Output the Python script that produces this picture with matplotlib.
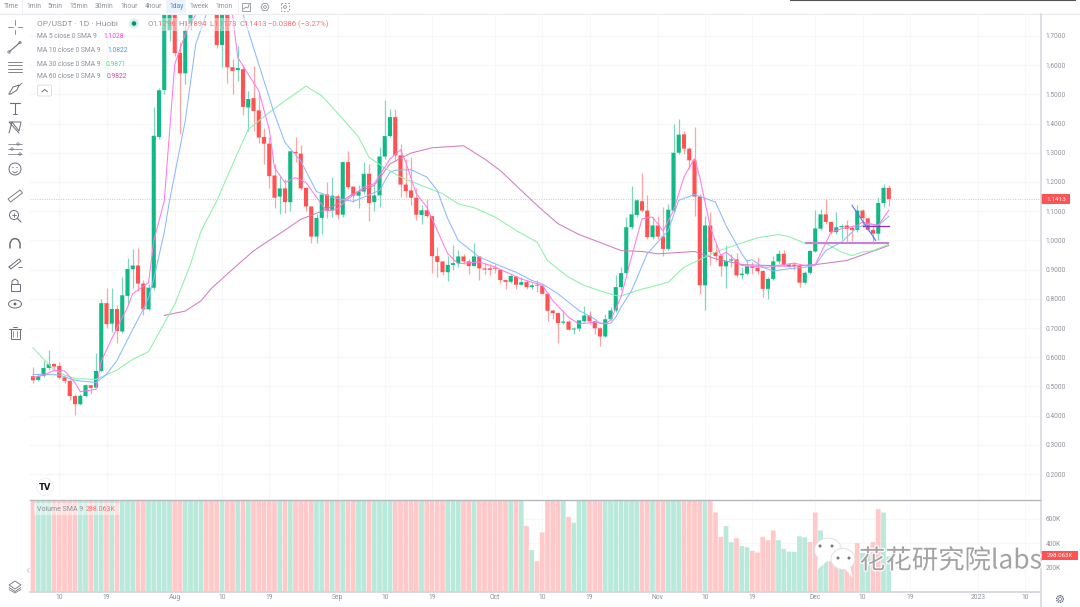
import matplotlib
matplotlib.use("Agg")
import matplotlib.pyplot as plt
from matplotlib.patches import Rectangle, FancyBboxPatch, Circle, Ellipse, Polygon
import matplotlib.patheffects as pe

# ---------- data ----------
first_day = -5   # days relative to 10 Jul
opens = [.535,.522,.536,.563,.577,.570,.531,.519,.467,.439,.467,.504,.496,.553,.785,.715,.765,.688,.810,.901,.914,.852,.764,
 .838,1.354,1.515,1.719,1.90,1.642,1.572,1.74,1.95,2.15,2.35,2.2,1.95,1.669,1.90,1.593,1.583,1.586,1.455,1.487,1.445,1.354,1.331,
 1.222,1.15,1.178,1.131,1.303,1.297,1.18,1.116,1.013,1.077,1.157,1.102,1.151,1.088,1.268,1.184,1.153,1.167,1.228,1.131,1.154,
 1.287,1.357,1.422,1.291,1.191,1.171,1.146,1.087,1.103,1.083,.946,.928,.891,.916,.922,.945,.928,.912,.945,.904,.904,.906,.899,
 .864,.858,.876,.848,.857,.84,.847,.845,.817,.76,.751,.718,.722,.695,.698,.723,.743,.723,.699,.671,.73,.76,.84,.888,1.045,1.087,
 1.134,1.102,1.011,1.051,1.013,.971,1.102,1.30,1.363,1.314,1.274,1.15,.846,1.051,.96,.948,.911,.931,.935,.881,.886,.911,.906,
 .895,.834,.868,.928,.954,.917,.917,.912,.855,.889,.962,1.04,1.089,1.063,1.028,1.045,1.051,1.043,1.036,1.102,1.075,1.036,1.023,
 1.128,1.1796]
closes = [.521,.535,.563,.576,.568,.530,.519,.467,.439,.468,.504,.495,.553,.785,.713,.765,.690,.812,.902,.914,.852,.764,.838,
 1.358,1.514,1.83,1.90,1.641,1.572,1.718,1.95,2.15,2.35,2.2,1.95,1.669,1.90,1.593,1.58,1.59,1.457,1.484,1.443,1.352,1.331,1.22,
 1.146,1.178,1.131,1.305,1.298,1.178,1.116,1.013,1.077,1.157,1.102,1.153,1.088,1.268,1.182,1.153,1.167,1.228,1.128,1.154,1.287,
 1.357,1.422,1.291,1.191,1.169,1.146,1.088,1.103,1.083,.946,.926,.891,.916,.922,.945,.928,.912,.945,.904,.90,.899,.903,.864,
 .858,.878,.848,.857,.84,.846,.845,.817,.759,.751,.717,.722,.694,.698,.726,.743,.723,.699,.671,.73,.76,.84,.888,1.045,1.089,1.137,
 1.102,1.011,1.051,1.013,.971,1.105,1.30,1.362,1.314,1.274,1.15,.846,1.051,.96,.946,.911,.929,.935,.88,.886,.911,.906,.895,
 .834,.868,.928,.954,.916,.912,.912,.855,.889,.964,1.041,1.089,1.063,1.028,1.045,1.049,1.04,1.036,1.102,1.076,1.036,1.023,1.128,
 1.18,1.1413]
highs = [.568,.544,.587,.625,.580,.582,.535,.524,.473,.473,.509,.504,.613,.798,.836,.836,.779,.875,.941,.969,.975,.863,.850,
 1.455,1.52,1.85,1.95,1.95,1.68,1.75,1.98,2.2,2.4,2.4,2.25,2.0,1.95,1.95,1.62,1.666,1.60,1.51,1.597,1.50,1.386,1.354,
 1.26,1.22,1.21,1.305,1.355,1.325,1.18,1.116,1.09,1.157,1.199,1.216,1.16,1.273,1.307,1.184,1.188,1.268,1.262,1.188,1.32,
 1.479,1.45,1.45,1.33,1.28,1.285,1.18,1.12,1.142,1.085,.976,.93,.945,.985,.966,.954,.937,.992,.948,.922,.92,.92,.903,
 .868,.886,.879,.874,.865,.853,.863,.851,.823,.76,.754,.76,.726,.705,.728,.777,.758,.723,.703,.749,.771,.88,.908,1.08,1.185,1.143,
 1.231,1.157,1.08,1.085,1.114,1.123,1.397,1.416,1.376,1.32,1.388,1.16,1.085,1.097,.988,.954,.983,.954,.956,.908,.937,.925,.943,
 .90,.874,.948,.968,.966,.922,.925,.914,.895,.968,1.105,1.108,1.142,1.067,1.097,1.057,1.07,1.051,1.12,1.108,1.08,1.051,1.15,
 1.194,1.1894]
lows = [.513,.519,.532,.556,.555,.527,.513,.454,.401,.436,.465,.473,.493,.551,.701,.686,.650,.684,.781,.838,.827,.745,.762,
 .83,1.346,1.50,1.684,1.63,1.365,1.536,1.72,1.9,2.1,2.15,1.9,1.66,1.594,1.54,1.50,1.546,1.43,1.375,1.375,1.335,1.26,1.18,
 1.11,1.09,1.093,1.102,1.27,1.173,1.102,.99,.99,1.022,1.077,1.08,1.073,1.081,1.175,1.13,1.111,1.159,1.066,1.10,1.115,
 1.28,1.354,1.274,1.15,1.15,1.12,1.07,1.057,1.08,.888,.876,.883,.861,.897,.908,.92,.886,.911,.865,.886,.883,.89,.853,
 .834,.853,.834,.846,.834,.834,.823,.815,.723,.731,.648,.714,.692,.68,.69,.72,.714,.68,.637,.669,.726,.754,.83,.885,1.04,1.08,
 1.097,1.005,1.005,1.005,.945,.968,1.097,1.297,1.297,1.245,1.085,.817,.762,.914,.931,.878,.838,.908,.876,.868,.882,.886,.886,
 .806,.80,.865,.92,.914,.908,.897,.84,.851,.886,.96,1.036,1.057,1.022,1.022,1.005,.994,.997,1.028,1.045,1.032,.988,1.0,
 1.114,1.1173]

ma5_days = [-5,-3,-1,1,3,4,7,8,11,13,14,17,18,20,22,24,26,28,30,32,33,34,38,40,41,43,45,47,49,51,53,55,58,60,63,65,66,68,70,72,74,76,80,83,88,92,94,97,99,102,104,105,107,109,111,113,115,117,119,121,122,124,126,127,130,132,135,137,140,142,144,147,149,152,153,156,158]
ma5_vals = [.53,.539,.555,.553,.513,.482,.49,.587,.701,.77,.818,.855,.998,1.135,1.603,1.706,1.774,1.95,2.0,1.9,1.774,1.626,1.512,1.38,1.249,1.198,1.215,1.198,1.147,1.1,1.108,1.142,1.182,1.194,1.279,1.31,1.268,1.16,1.114,1.034,.954,.92,.926,.909,.868,.846,.794,.737,.714,.72,.714,.726,.806,.943,1.074,1.08,1.032,1.102,1.217,1.28,1.217,1.045,.948,.96,.914,.911,.908,.914,.922,.914,.917,1.028,1.04,1.051,1.063,1.051,1.1028]
ma10_days = [-5,-2,0,3,7,9,11,14,16,17,18,20,21,24,26,28,30,32,34,35,38,41,43,46,49,52,56,58,61,63,64,67,70,72,74,76,80,83,87,90,92,95,99,102,103,105,106,107,109,112,116,118,121,125,127,130,131,132,134,136,139,142,144,146,149,152,154,156,158]
ma10_vals = [.541,.541,.539,.521,.513,.541,.589,.695,.764,.804,.867,1.027,1.135,1.409,1.672,1.774,1.88,1.9,1.85,1.774,1.603,1.432,1.335,1.272,1.167,1.148,1.133,1.148,1.171,1.234,1.24,1.242,1.217,1.171,1.074,1.0,.943,.92,.891,.863,.851,.817,.76,.731,.716,.716,.737,.771,.828,.954,1.034,1.137,1.157,1.131,1.051,.954,.929,.934,.908,.895,.903,.908,.914,.965,.994,1.045,1.054,1.051,1.0822]
ma30_days = [-5,-3,-1,1,3,7,11,14,17,19,22,25,27,30,33,36,40,43,47,50,54,57,59,62,65,69,73,76,79,83,87,91,93,97,100,103,106,107,110,116,119,122,125,128,133,137,139,142,146,149,151,153,155,158]
ma30_vals = [.633,.593,.558,.539,.527,.524,.556,.593,.619,.684,.781,.918,1.032,1.135,1.26,1.38,1.438,1.478,1.528,1.495,1.416,1.354,1.285,1.248,1.217,1.188,1.16,1.125,1.112,1.08,1.034,.994,.931,.874,.846,.827,.811,.809,.828,.857,.908,.934,.96,.979,1.009,1.02,1.013,.99,.99,.96,.948,.96,.965,.9871]
ma60_days = [20,24,27,29,33,37,40,43,46,50,53,56,60,63,67,71,77,81,84,87,91,95,99,103,107,111,114,121,125,130,135,139,144,150,158]
ma60_vals = [.743,.758,.793,.836,.901,.964,1.0,1.035,1.072,1.1,1.125,1.16,1.188,1.262,1.299,1.317,1.324,1.279,1.239,1.188,1.12,1.057,1.02,.993,.965,.962,.954,.962,.937,.917,.914,.911,.917,.931,.9822]

vol_colors = ("r"+"ggg"+"rrrrr"+"gg"+"r"+"gg"+"r"+"g"+"r"+"ggg"+"rr"+"ggggg"+"rr"+"gggg"+"rrr"+"g"+"rr"+"g"+"r"+"g"+"rrrrr"+"g"+"r"+"g"+"rrrr"+"gg"+"r"+"g"+"r"+"g"+"rr"+"gg"+"r"+"gggg"+"rrrrr"+"g"+"rrrr"+"ggg"+"rr"+"g"+"rrrrrr"+"g"+"r"+"g"
 +"r"+"g"+"r"+"r"+"rrr"+"g"+"r"+"g"+"gg"+"rrr"+"ggggggg"+"rr"+"g"+"rr"+"ggg"+"rrrr"+"g"+"r"+"r"+"r"+"gg"+"r"+"gg"+"rrr"+"rr"+"ggg"+"g"+"gg"+"rr"+"gg"+"rr"+"g"+"rrr"+"gg"+"r")
# thousands; the first 94 run off the top of the pane
volumes = [900,1200,1100,950,1300,1000,900,1400,1250,1000,1500,1300,900,1100,2000,3500,2400,1800,1500,1300,2600,3100,2800,2200,1700,1500,1900,2500,2900,2400,1800,1600,1500,1900,1400,1300,1200,1700,1500,1300,1200,1600,2100,1800,1500,1300,1200,1000,1100,1400,1600,1900,1700,1500,1300,1100,1200,1500,1800,2100,1600,1400,1300,1700,1400,1200,1100,1300,1500,1800,1400,1200,1100,1000,950,1300,1100,1500,1700,1300,1100,1000,950,900,880,860,820,1000,950,900,840,900,1000,1100,
 540,342,250,488,1100,1300,900,900,616,568,820,900,1100,1400,1000,1300,1100,1200,1000,1500,1000,900,1000,1300,1200,1100,1000,1200,1100,1300,1800,1500,1600,1200,1100,900,652,452,540,408,440,375,366,336,322,452,424,504,424,352,330,328,456,448,408,652,504,330,330,310,318,300,275,400,318,318,408,680,652,290]

price_ticks = [1.7,1.6,1.5,1.4,1.3,1.2,1.1,1.0,.9,.8,.7,.6,.5,.4,.3,.2]
vol_ticks = [600,400,200]
date_days = [0,9,22,31,40,53,62,71,83,92,101,114,123,132,144,153,162,175,184]
date_labels = ["10","19","Aug","10","19","Sep","10","19","Oct","10","19","Nov","10","19","Dec","10","19","2023","10"]
last_close = 1.1413
last_volume = "298.063K"
timeframes = ["Time","1min","5min","15min","30min","1hour","4hour","1day","1week","1mon"]
timeframe_x = [11,33.5,55,79,104.5,129.5,153.5,176.5,199.5,224.5]
legend_names = ["MA 5 close 0 SMA 9","MA 10 close 0 SMA 9","MA 30 close 0 SMA 9","MA 60 close 0 SMA 9"]
legend_vals = ["1.1028","1.0822","0.9871","0.9822"]
drawn_purple_days = [142,158]; drawn_purple_vals = [.99,.99]
drawn_dark_days = [153,158]; drawn_dark_vals = [1.05,1.05]
drawn_blue_days = [151,155.5]; drawn_blue_vals = [1.12,1.0]

# ---------- look ----------
W, H = 1080, 607
UP, DOWN = "#12B886", "#FF5252"
UP_W, DOWN_W = "#7FD8BE", "#FFA3A3"
UP_V, DOWN_V = "#B8E9DA", "#FFC9C9"
C5, C10, C30, C60 = "#FF7AEA", "#8ABAFF", "#8CF0AA", "#D27CC2"
GRID = "#F6F7F9"
TXT = "#8D929B"
plt.rcParams["font.family"] = ["Roboto", "DejaVu Sans"]

def box(x0, y0, x1, y1):
    return [x0/W, 1-y1/H, (x1-x0)/W, (y1-y0)/H]

fig = plt.figure(figsize=(W/100, H/100), dpi=100, facecolor="white")
XLIM = ((30-59.25)/5.25, (1040-59.25)/5.25)

ax = fig.add_axes(box(30, 14, 1040, 498))
ax.set_xlim(*XLIM); ax.set_ylim(0.118, 1.775)
vx = fig.add_axes(box(30, 500, 1040, 591.5))
vx.set_xlim(*XLIM); vx.set_ylim(0, 756)

days = [first_day+i for i in range(len(opens))]
for a in (ax, vx):
    for s in a.spines.values():
        s.set_visible(False)
    a.set_axisbelow(True)
    a.grid(True, color=GRID, lw=0.8)
    a.set_xticks(date_days)
ax.set_yticks(price_ticks)
vx.set_yticks(vol_ticks)
ax.tick_params(length=0, labelbottom=False, labelleft=False)
vx.set_xticklabels(date_labels)
vx.set_yticklabels([f"{v}K" for v in vol_ticks])
vx.tick_params(axis="x", length=0, labelsize=4.9, labelcolor=TXT, pad=1.8)
vx.tick_params(axis="y", length=0, labelleft=False)
ax.yaxis.tick_right(); vx.yaxis.tick_right()
ax.tick_params(axis="y", labelright=True, labelsize=4.7, labelcolor=TXT, pad=4.2)
vx.tick_params(axis="y", labelright=True, labelsize=4.7, labelcolor=TXT, pad=4.2)
ax.set_yticklabels([f"{v:.4f}" for v in price_ticks])

# candles
up = [c >= o for o, c in zip(opens, closes)]
ax.vlines(days, lows, highs, colors=[UP_W if u else DOWN_W for u in up], lw=0.9, zorder=2)
bodies = ax.bar(days, [max(abs(c-o), .003) for o, c in zip(opens, closes)], bottom=[min(o, c) for o, c in zip(opens, closes)],
       width=0.78, color=[UP if u else DOWN for u in up], lw=0, zorder=3)
# moving averages
ax.plot(ma60_days, ma60_vals, color=C60, lw=0.75, zorder=4)
ax.plot(ma30_days, ma30_vals, color=C30, lw=0.75, zorder=4)
ax.plot(ma10_days, ma10_vals, color=C10, lw=0.75, zorder=4)
ax.plot(ma5_days, ma5_vals, color=C5, lw=0.75, zorder=4)
# drawn trend lines
ax.plot(drawn_purple_days, drawn_purple_vals, color="#C583D6", lw=1.5, zorder=5, solid_capstyle="butt")
ax.plot(drawn_dark_days, drawn_dark_vals, color="#8E30B0", lw=0.9, zorder=5)
ax.plot(drawn_blue_days, drawn_blue_vals, color="#4C78F0", lw=0.8, zorder=5)
ax.axhline(last_close, color="#FFB5B5", lw=0.7, ls=(0, (1, 1.4)), zorder=1)
# volume
vbars = vx.bar(days, volumes, width=0.9, color=[UP_V if c == "g" else DOWN_V for c in vol_colors], lw=0, zorder=2)
for patch in list(bodies) + list(vbars):
    patch.set_snap(False)

# ---------- chrome in pixel space ----------
ui = fig.add_axes([0, 0, 1, 1], zorder=10)
ui.set_xlim(0, W); ui.set_ylim(H, 0); ui.axis("off"); ui.patch.set_alpha(0)
G = "#6A707B"
ui.add_patch(Rectangle((0, 0), W, 13, fc="white", ec="none"))
ui.plot([0, W], [13.5, 13.5], color="#E9EBEF", lw=0.8)
ui.plot([790, 1075], [0.3, 0.3], color="#555555", lw=0.8)
ui.plot([1040.5, 1040.5], [14, 607], color="#D3D6DC", lw=1.1)
ui.plot([30, 1040], [499.5, 499.5], color="#B4B7BD", lw=1.0)
ui.plot([30, 1040], [592, 592], color="#D0D3D8", lw=1.2)
ui.add_patch(Rectangle((166, 0), 20, 13, fc="#EEF3FB", ec="none"))
for t, x in zip(timeframes, timeframe_x):
    ui.text(x, 6.8, t, ha="center", va="center", fontsize=4.9, color="#3F8CE0" if t == "1day" else TXT)
for x in (22, 238):
    ui.plot([x, x], [0, 13], color="#ECEEF1", lw=0.6)
# header icons
ui.add_patch(Rectangle((242, 3), 8, 8, fc="none", ec=TXT, lw=0.6))
ui.plot([243.5, 246, 248, 249], [9, 7, 8, 4.5], color=TXT, lw=0.6)
ui.add_patch(Polygon([(261, 7), (263, 3.5), (267, 3.5), (269, 7), (267, 10.5), (263, 10.5)], fc="none", ec=TXT, lw=0.6))
ui.add_patch(Circle((265, 7), 1.4, fc="none", ec=TXT, lw=0.6))
ui.add_patch(Rectangle((281, 3), 8, 8, fc="none", ec=TXT, lw=0.6, ls=(0, (2, 2))))
ui.add_patch(Circle((285, 7), 1.4, fc="none", ec=TXT, lw=0.6))

# legend
ui.add_patch(Rectangle((35, 18), 292, 13, fc="white", ec="none", alpha=0.45))
ui.text(37, 23.5, "OP/USDT · 1D · Huobi", fontsize=6, color=TXT, va="center")
ui.add_patch(Circle((134, 23.5), 5, fc="#D8F0EA", ec="none"))
ui.add_patch(Circle((134, 23.5), 2.3, fc="#0B8F74", ec="none"))
RED = "#FF6E6E"
for lab, lx, val, vxx in zip("OHLC", (148, 178, 209, 239), ("1.1796", "1.1894", "1.1173", "1.1413"), (152.5, 183, 213, 243)):
    ui.text(lx, 24, lab, fontsize=5.6, color=TXT, va="center")
    ui.text(vxx, 24, val, fontsize=5.6, color=RED, va="center")
ui.text(268, 24, "−0.0386 (−3.27%)", fontsize=5.6, color=RED, va="center")
for y, name, val, col, vx0 in zip((37, 50.5, 64, 77), legend_names, legend_vals, ("#FF40E0", "#3D9BFF", "#3EEB78", "#BE55AE"), (103, 107, 106, 107)):
    ui.text(37, y, name, fontsize=4.9, color=TXT, va="center")
    ui.text(vx0, y, val, fontsize=4.9, color=col, va="center")
ui.add_patch(FancyBboxPatch((37.5, 85), 14, 11, boxstyle="round,pad=0,rounding_size=1.5", fc="white", ec="#D8DAE0", lw=0.6))
ui.plot([42, 44.7, 47.4], [91.7, 89.5, 91.7], color=G, lw=0.7)

# volume legend and price tags
ui.add_patch(Rectangle((34, 503), 86, 12, fc="white", ec="none", alpha=0.45))
ui.text(37, 509.5, "Volume SMA 9", fontsize=5.0, color=TXT, va="center")
ui.text(86, 509.5, last_volume, fontsize=5.0, color=RED, va="center")
ui.add_patch(Rectangle((1041, 194), 29, 10, fc="#FF5252", ec="none"))
ui.text(1046, 199.2, f"{last_close:.4f}", fontsize=4.6, color="white", va="center")
ui.add_patch(Rectangle((1041, 550.5), 36.5, 9.5, fc="#FF5252", ec="none"))
ui.text(1046.5, 555.4, last_volume, fontsize=4.4, color="white", va="center")

# left toolbar icons
def line(xs, ys, c=G, lw=0.6):
    ui.plot(xs, ys, color=c, lw=lw, solid_capstyle="round")
line([8, 12.5], [27, 27], "#4A7FE8"); line([17.5, 22], [27, 27], "#4A7FE8")
line([15, 15], [20, 24.5], "#4A7FE8"); line([15, 15], [29.5, 34], "#4A7FE8")
line([9, 20], [52, 42.5], lw=0.8)
ui.add_patch(Circle((9, 52), 1.2, fc="white", ec=G, lw=0.5)); ui.add_patch(Circle((20, 42.5), 1.2, fc="white", ec=G, lw=0.5))
for y in (61.5, 65, 68.5, 72):
    line([7.5, 22], [y, y], lw=0.6)
line([9, 13, 19, 17, 11, 9], [94, 87, 85, 90, 94, 94], lw=0.7); line([18, 22], [87, 83], lw=0.6)
line([10, 20], [103, 103], lw=0.8); line([15, 15], [103, 114], lw=0.8); line([13, 17], [114, 114], lw=0.7)
line([9, 12, 19, 21, 9, 19], [133, 122, 131, 122, 122, 133], lw=0.7)
for y, xc in ((144, 18), (149, 12), (154, 20)):
    line([8, 22], [y, y], lw=0.5); ui.add_patch(Circle((xc, y), 1.2, fc="white", ec=G, lw=0.5))
ui.add_patch(Circle((15, 169), 6, fc="none", ec=G, lw=0.7))
ui.add_patch(Circle((13, 167.5), 0.6, fc=G, ec="none")); ui.add_patch(Circle((17, 167.5), 0.6, fc=G, ec="none"))
line([12.5, 15, 17.5], [171.5, 173, 171.5])
ui.add_patch(Polygon([(8, 199), (20, 190), (22.5, 193), (10.5, 202)], fc="white", ec=G, lw=0.6))
ui.add_patch(Circle((14, 215), 4.5, fc="none", ec=G, lw=0.7)); line([17.5, 21], [218.5, 222], lw=0.8)
line([12, 16], [215, 215]); line([14, 14], [213, 217])
line([10, 10, 12, 15, 18, 20, 20], [248, 243, 239.5, 238.5, 239.5, 243, 248], lw=1.1)
line([9, 19, 21, 11, 9], [267, 259, 261, 269, 267], lw=0.7); line([18, 22], [267, 267])
ui.add_patch(Rectangle((10.5, 284), 9, 7, fc="white", ec=G, lw=0.7))
line([12, 12, 15, 18, 18], [284, 281, 279, 281, 284], lw=0.7)
ui.add_patch(Ellipse((15, 304), 13, 8, fc="none", ec=G, lw=0.7)); ui.add_patch(Circle((15, 304), 1.5, fc=G, ec="none"))
ui.add_patch(Rectangle((10.5, 329), 9, 10, fc="none", ec=G, lw=0.7)); line([9, 21], [328.5, 328.5], lw=0.8)
line([13, 13], [331, 337], lw=0.5); line([17, 17], [331, 337], lw=0.5); line([13, 17], [326.5, 326.5], lw=0.7)
ui.add_patch(Polygon([(15, 581), (21, 585), (15, 589), (9, 585)], fc="white", ec=G, lw=0.6))
line([9, 15, 21], [587.5, 591.5, 587.5], lw=0.6); line([9, 15, 21], [589.5, 593, 589.5], lw=0.5)
line([29, 27.5, 29], [568.5, 570.5, 572.5], "#B7BBC2", 0.6)
# TV logo
ui.add_patch(Circle((45, 487), 8.5, fc="white", ec="#ECEEF1", lw=0.6))
ui.text(45, 487, "TV", fontsize=6, fontweight="bold", color="#131722", ha="center", va="center", family="DejaVu Sans")
# gear
ui.add_patch(Circle((1060, 599), 3.3, fc="none", ec=G, lw=1.0, ls=(0, (1.1, 0.5))))
ui.add_patch(Circle((1060, 599), 1.5, fc="none", ec=G, lw=0.5))

# watermark
stroke = [pe.withStroke(linewidth=1.6, foreground="white")]
for (cx, cy, rx, ry) in ((828, 550, 13.5, 12), (843, 559, 12, 10.5)):
    ui.add_patch(Ellipse((cx, cy), 2*rx, 2*ry, fc="white", ec="#DDDDDD", lw=0.6, zorder=20))
ui.add_patch(Polygon([(818, 558), (817, 570), (827, 561)], fc="white", ec="none", zorder=20))
ui.add_patch(Polygon([(850, 566), (853, 578), (844, 568)], fc="white", ec="none", zorder=20))
for (cx, cy) in ((820, 546), (832, 546), (838, 558), (849, 558)):
    ui.add_patch(Circle((cx, cy), 1.5, fc="#777777", ec="none", zorder=21))
ui.text(859, 561, "花花研究院labs", fontsize=19, color="#A3A3A3", va="center", ha="left", zorder=22,
        family=["Noto Sans CJK SC", "DejaVu Sans"], path_effects=stroke)

fig.savefig("out.png", dpi=100, facecolor="white")
